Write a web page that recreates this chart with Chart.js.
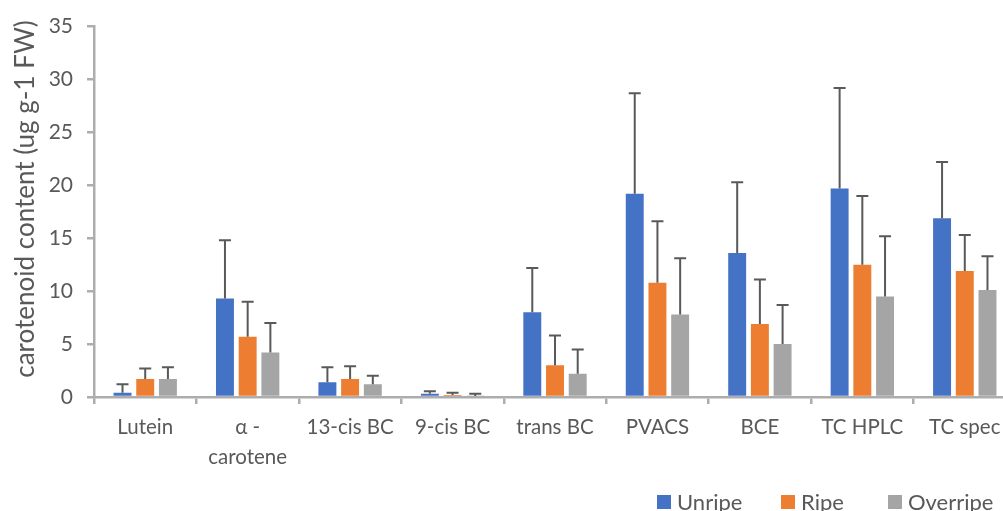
<!DOCTYPE html>
<html>
<head>
<meta charset="utf-8">
<script src="https://cdn.jsdelivr.net/npm/chart.js@4.4.1/dist/chart.umd.min.js"></script>
<style>
  html, body { margin: 0; padding: 0; background: #fff; overflow: hidden; }
  #wrap { width: 1030px; height: 511px; }
</style>
</head>
<body>
<div id="wrap"><canvas id="c" width="1030" height="511"></canvas></div>
<script>
// Carotenoid content by ripeness stage (ug g-1 FW), mean and upper error
const categories = ['Lutein', ['\u03b1 -', 'carotene'], '13-cis BC', '9-cis BC', 'trans BC', 'PVACS', 'BCE', 'TC HPLC', 'TC spec'];
const seriesNames = ['Unripe', 'Ripe', 'Overripe'];
const unripe   = [0.4, 9.3, 1.4, 0.3, 8.0, 19.2, 13.6, 19.7, 16.9];
const ripe     = [1.7, 5.7, 1.7, 0.2, 3.0, 10.8, 6.9, 12.5, 11.9];
const overripe = [1.7, 4.2, 1.2, 0.1, 2.2, 7.8, 5.0, 9.5, 10.1];
const unripeErr   = [0.8, 5.5, 1.4, 0.25, 4.2, 9.5, 6.7, 9.5, 5.3];
const ripeErr     = [1.0, 3.3, 1.2, 0.2, 2.8, 5.8, 4.2, 6.5, 3.4];
const overripeErr = [1.1, 2.8, 0.8, 0.2, 2.3, 5.3, 3.7, 5.7, 3.2];
const yTicks = [0, 5, 10, 15, 20, 25, 30, 35];
const yTitle = 'carotenoid content (ug g-1 FW)';

const colors = ['#4472C4', '#ED7D31', '#A5A5A5'];
const axisColor = '#ADADAD';
const textColor = '#595959';
const FONT = 'Lato, "Open Sans", sans-serif';

const seriesValues = [unripe, ripe, overripe];
const seriesErrors = [unripeErr, ripeErr, overripeErr];

// Upper error bars drawn on top of each bar
const errorBars = {
  id: 'errorBars',
  afterDatasetsDraw(chart) {
    const ctx = chart.ctx;
    const y = chart.scales.y;
    ctx.save();
    ctx.strokeStyle = '#595959';
    ctx.lineWidth = 2;
    chart.data.datasets.forEach((ds, di) => {
      const meta = chart.getDatasetMeta(di);
      meta.data.forEach((bar, i) => {
        const top = y.getPixelForValue(ds.data[i] + ds.errors[i]);
        ctx.beginPath();
        ctx.moveTo(bar.x, bar.y);
        ctx.lineTo(bar.x, top);
        ctx.moveTo(bar.x - 6, top);
        ctx.lineTo(bar.x + 6, top);
        ctx.stroke();
      });
    });
    ctx.restore();
  }
};

// Vertical axis title and the legend row
const legendX = [657, 781, 888];
const decorations = {
  id: 'decorations',
  afterDraw(chart) {
    const ctx = chart.ctx;
    ctx.save();
    ctx.fillStyle = textColor;
    ctx.font = '26px ' + FONT;
    ctx.textAlign = 'center';
    ctx.textBaseline = 'middle';
    ctx.translate(26, 199);
    ctx.rotate(-Math.PI / 2);
    ctx.fillText(yTitle, 0, 0);
    ctx.restore();

    ctx.save();
    ctx.font = '22px ' + FONT;
    ctx.textBaseline = 'alphabetic';
    ctx.textAlign = 'left';
    chart.data.datasets.forEach((ds, k) => {
      const x = legendX[k];
      ctx.fillStyle = ds.backgroundColor;
      ctx.fillRect(x, 495, 14, 14);
      ctx.fillStyle = textColor;
      ctx.fillText(ds.label, x + 20, 510);
    });
    ctx.restore();
  }
};

new Chart(document.getElementById('c'), {
  type: 'bar',
  data: {
    labels: categories,
    datasets: seriesNames.map((name, k) => ({
      label: name,
      data: seriesValues[k],
      errors: seriesErrors[k],
      backgroundColor: colors[k],
      borderWidth: 0,
      categoryPercentage: 0.665,
      barPercentage: 0.79
    }))
  },
  options: {
    responsive: false,
    animation: false,
    layout: { padding: { top: 26, right: 14, bottom: 0, left: 0 } },
    plugins: { legend: { display: false }, tooltip: { enabled: false } },
    scales: {
      x: {
        grid: {
          display: true, drawOnChartArea: false, offset: true,
          drawTicks: true, tickLength: 7, tickColor: axisColor, lineWidth: 2.5
        },
        border: { color: axisColor, width: 2.5 },
        ticks: { color: textColor, font: { family: FONT, size: 20.5, lineHeight: 1.45 }, padding: 9, maxRotation: 0, autoSkip: false },
        afterFit(scale) { scale.height = 114; }
      },
      y: {
        min: 0, max: 35,
        afterBuildTicks(scale) { scale.ticks = yTicks.map(v => ({ value: v })); },
        grid: {
          display: true, drawOnChartArea: false,
          drawTicks: true, tickLength: 7, tickColor: axisColor, lineWidth: 2.5
        },
        border: { color: axisColor, width: 2.5 },
        ticks: { color: textColor, font: { family: FONT, size: 21 }, padding: 14 },
        afterFit(scale) { scale.width = 94; }
      }
    }
  },
  plugins: [errorBars, decorations]
});
</script>
</body>
</html>
